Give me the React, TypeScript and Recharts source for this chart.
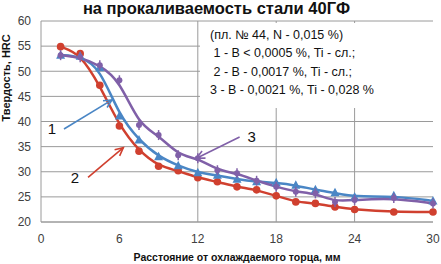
import React from 'react';
import { LineChart, Line, XAxis, YAxis, CartesianGrid, ReferenceLine } from 'recharts';

const distances = [1.5, 3, 4.5, 6, 7.5, 9, 10.5, 12, 13.5, 15, 16.5, 18, 19.5, 21, 22.5, 24, 27, 30];
const series1 = [53.2, 53.0, 50.7, 41.1, 36.3, 33.0, 31.2, 29.8, 29.3, 28.5, 28.0, 27.8, 27.3, 26.4, 25.8, 25.0, 25.2, 24.2];
const series2 = [54.9, 53.5, 47.2, 39.1, 34.1, 31.1, 30.2, 28.8, 28.0, 27.0, 26.4, 25.2, 24.0, 23.7, 23.0, 22.5, 22.0, 22.0];
const series3 = [53.2, 52.8, 51.2, 48.2, 39.3, 37.3, 33.3, 32.7, 30.3, 29.7, 28.2, 27.0, 26.0, 25.7, 24.0, 24.4, 24.8, 23.7];
const xTicks = [0, 6, 12, 18, 24, 30];
const yTicks = [20, 25, 30, 35, 40, 45, 50, 55, 60];
const vGrid = [12, 18, 24];

const title = 'на прокаливаемость стали 40ГФ';
const xTitle = 'Расстояние от охлаждаемого торца, мм';
const yTitle = 'Твердость, HRC';
const noteLines = [
  '(пл. № 44, N - 0,015 %)',
  ' 1 - B < 0,0005 %, Ti - сл.;',
  ' 2 - B - 0,0017 %, Ti - сл.;',
  '3 - B - 0,0021 %, Ti - 0,028 %',
];

const BLUE = '#4a86c5';
const RED = '#d0402f';
const PURPLE = '#8060a8';

const arrows = [
  { label: '1', from: { x: 1.76, y: 38.5 }, to: { x: 5.43, y: 44.3 }, color: BLUE, dx: -12 },
  { label: '2', from: { x: 3.6, y: 28.9 }, to: { x: 6.3, y: 34.8 }, color: RED, dx: -13 },
  { label: '3', from: { x: 15.2, y: 36.9 }, to: { x: 11.9, y: 32.7 }, color: PURPLE, dx: 12 },
];

const data = distances.map((d, i) => ({ x: d, s1: series1[i], s2: series2[i], s3: series3[i] }));

const RedDot = (p: any) => <circle cx={p.cx} cy={p.cy} r={3.8} fill={RED} />;
const BlueDot = (p: any) => (
  <polygon points={`${p.cx},${p.cy - 5} ${p.cx - 4.5},${p.cy + 3.5} ${p.cx + 4.5},${p.cy + 3.5}`} fill={BLUE} />
);
const PurpleDot = (p: any) => (
  <g>
    <line x1={p.cx} y1={p.cy - 5} x2={p.cx} y2={p.cy + 5} stroke={PURPLE} strokeWidth={1.5} />
    <circle cx={p.cx} cy={p.cy} r={3} fill={PURPLE} />
  </g>
);

const ArrowShape = (color: string, label: string, dx: number) => (p: any) => {
  const { x1, y1, x2, y2 } = p;
  const ang = Math.atan2(y2 - y1, x2 - x1);
  const hl = 9;
  const a1 = ang + Math.PI - 0.45;
  const a2 = ang + Math.PI + 0.45;
  return (
    <g>
      <line x1={x1} y1={y1} x2={x2} y2={y2} stroke={color} strokeWidth={1.6} />
      <polyline
        points={`${x2 + hl * Math.cos(a1)},${y2 + hl * Math.sin(a1)} ${x2},${y2} ${x2 + hl * Math.cos(a2)},${y2 + hl * Math.sin(a2)}`}
        fill="none"
        stroke={color}
        strokeWidth={1.6}
      />
      <text x={x1 + dx} y={y1} dy="0.35em" textAnchor="middle" fontSize={15} fill="#111" fontFamily="Liberation Sans, sans-serif">
        {label}
      </text>
    </g>
  );
};

export default function App() {
  return (
    <div style={{ position: 'absolute', left: 0, top: 0, width: 441, height: 264, background: '#fff', fontFamily: 'Liberation Sans, sans-serif', overflow: 'hidden' }}>
      <LineChart width={441} height={264} data={data} margin={{ top: 21, right: 8, bottom: 0, left: 0 }}>
        <CartesianGrid stroke="#9a9a9a" horizontal={true} vertical={true} verticalValues={vGrid} />
        <XAxis
          type="number"
          dataKey="x"
          domain={[0, 30]}
          ticks={xTicks}
          interval={0}
          tickLine={false}
          tickSize={0}
          tickMargin={12}
          axisLine={{ stroke: '#9a9a9a' }}
          height={42}
          tick={{ fontSize: 12, fill: '#404040' }}
          label={{ value: xTitle, position: 'insideBottom', offset: 3, fontSize: 10.5, fontWeight: 'bold', fill: '#111' }}
        />
        <YAxis
          type="number"
          domain={[20, 60]}
          ticks={yTicks}
          interval={0}
          tickLine={false}
          tickSize={0}
          tickMargin={10}
          width={41}
          axisLine={{ stroke: '#9a9a9a' }}
          tick={{ fontSize: 12, fill: '#404040' }}
          label={{ value: yTitle, angle: -90, position: 'insideLeft', offset: 6, fontSize: 11, fontWeight: 'bold', fill: '#111' }}
        />
        <Line type="basis" dataKey="s2" stroke={RED} strokeWidth={2.5} dot={<RedDot />} isAnimationActive={false} />
        <Line type="basis" dataKey="s1" stroke={BLUE} strokeWidth={2.5} dot={<BlueDot />} isAnimationActive={false} />
        <Line type="basis" dataKey="s3" stroke={PURPLE} strokeWidth={2.5} dot={<PurpleDot />} isAnimationActive={false} />
        {arrows.map((a) => (
          <ReferenceLine key={a.label} segment={[a.from, a.to]} shape={ArrowShape(a.color, a.label, a.dx)} ifOverflow="visible" />
        ))}
      </LineChart>
      <div
        style={{
          position: 'absolute',
          left: 0,
          top: 0,
          width: 433,
          textAlign: 'center',
          fontSize: 16.5,
          fontWeight: 'bold',
          color: '#111',
          lineHeight: '17px',
          whiteSpace: 'nowrap',
        }}
      >
        {title}
      </div>
      <div
        style={{
          position: 'absolute',
          left: 200,
          top: 23,
          width: 241,
          height: 85,
          background: '#fff',
          fontSize: 12.5,
          lineHeight: '18.3px',
          color: '#111',
          paddingLeft: 10,
          paddingTop: 3,
          boxSizing: 'border-box',
          whiteSpace: 'pre',
        }}
      >
        {noteLines.map((l) => (
          <div key={l}>{l}</div>
        ))}
      </div>
    </div>
  );
}
